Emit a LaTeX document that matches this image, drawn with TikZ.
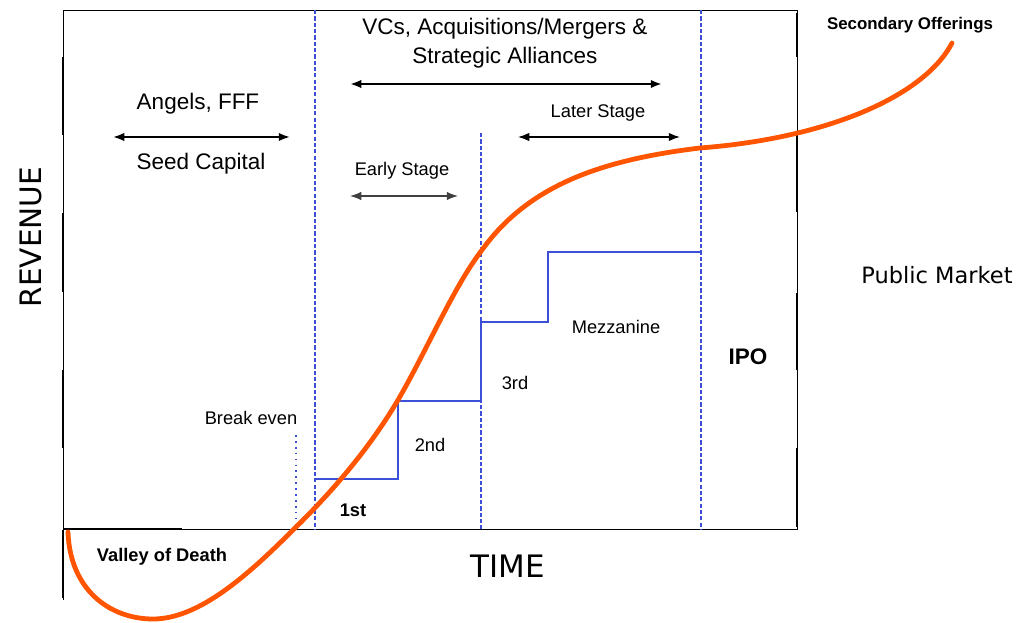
\documentclass[tikz,border=0pt]{standalone}
\usepackage{fontspec}
\setmainfont{Liberation Sans}
\newfontfamily\dejavu{DejaVu Sans}
\usetikzlibrary{arrows.meta}
\definecolor{stepblue}{RGB}{60,80,215}
\definecolor{curveorange}{RGB}{255,85,0}

\begin{document}
\begin{tikzpicture}[x=0.025cm,y=-0.025cm,
		frame/.style={line width=0.6pt},
		heavy/.style={line width=1.8pt},
		stage/.style={stepblue,dash pattern=on 3pt off 1.5pt,line width=0.9pt},
		span/.style={{Latex[length=8pt,width=6pt]}-{Latex[length=8pt,width=6pt]}},
		lbl/.style={inner sep=0pt,font=\fontsize{13}{15}\selectfont}]
		\useasboundingbox (0,0) rectangle (1021,623);

		\coordinate (tl) at (63,10);
		\coordinate (tr) at (797,10);
		\coordinate (bl) at (63,529);
		\coordinate (br) at (797,529);
		\coordinate (low) at (63,600);
		\draw[frame] (low) -- (tl) -- (tr) -- (br) -- (bl);
		\foreach \a/\b in {57/135,213/292,370/448,530/598}
			\draw[heavy] (63,\a) -- (63,\b);
		\foreach \a/\b in {13/57,135/212,293/370,448/527}
			\draw[heavy] (797,\a) -- (797,\b);
		\draw[heavy] (bl) -- (182,529);

		\draw[stage] (315,10) -- (315,529);
		\draw[stage] (481,133) -- (481,529);
		\draw[stage] (701,10) -- (701,529);
		\draw[stepblue,dash pattern=on 1.2pt off 3pt,line width=1.4pt] (296,435) -- (296,529);

		\draw[stepblue,line width=1pt] (315,479) -- (398,479) -- (398,401) -- (481,401)
			-- (481,322) -- (548,322) -- (548,252) -- (701,252);

		\draw[curveorange,line width=3.4pt,line cap=round] (68,532)
			.. controls (70,590) and (110,619) .. (153,619)
			.. controls (200,619) and (250,573) .. (293,530)
			.. controls (328,496) and (368,451) .. (398,400)
			.. controls (426,352) and (454,286) .. (482,250)
			.. controls (528,186) and (600,160) .. (700,148)
			.. controls (830,138) and (925,95) .. (952,43);

		\coordinate (seedL) at (113,137);
		\coordinate (seedR) at (290,137);
		\coordinate (vcL) at (350,84);
		\coordinate (vcR) at (662,84);
		\coordinate (lateL) at (518,137);
		\coordinate (lateR) at (680,137);
		\coordinate (earlyL) at (350,196);
		\coordinate (earlyR) at (458,196);
		\draw[span,line width=1.4pt] (seedL) -- (seedR);
		\draw[span,line width=1.5pt] (vcL) -- (vcR);
		\draw[span,line width=1pt] (lateL) -- (lateR);
		\draw[span,line width=0.8pt,black!75] (earlyL) -- (earlyR);

		\node[rotate=90,inner sep=0pt,font=\dejavu\fontsize{21}{24}\selectfont] (rev) at (31,237) {REVENUE};
		\node[inner sep=0pt,font=\dejavu\fontsize{22}{26}\selectfont] (time) at (508,566) {TIME};
		\node[inner sep=0pt,font=\dejavu\fontsize{16}{19}\selectfont] (pub) at (937,275) {Public Market};

		\node[lbl,font=\fontsize{16}{19}\selectfont] (angels) at (198,104) {Angels, FFF};
		\node[lbl,font=\fontsize{16}{19}\selectfont] (seed) at (201,164) {Seed Capital};
		\node[lbl,font=\fontsize{16}{19}\selectfont,align=center] (vc) at (505,43)
			{VCs, Acquisitions/Mergers \&\\[2pt]Strategic Alliances};
		\node[lbl] (later) at (598,113) {Later Stage};
		\node[lbl] (early) at (402,171) {Early Stage};
		\node[lbl] (mezz) at (616,327) {Mezzanine};
		\node[lbl] (third) at (515,383) {3rd};
		\node[lbl] (second) at (430,445) {2nd};
		\node[lbl,font=\bfseries\fontsize{13}{15}\selectfont] (first) at (353,510) {1st};
		\node[lbl] (even) at (251,418) {Break even};
		\node[lbl,font=\bfseries\fontsize{13}{15}\selectfont] (valley) at (162,557) {Valley of Death};
		\node[lbl,font=\bfseries\fontsize{12}{14}\selectfont] (offer) at (910,25) {Secondary Offerings};
		\node[lbl,font=\bfseries\fontsize{16}{19}\selectfont] (ipo) at (748,357) {IPO};
	\end{tikzpicture}
\end{document}
